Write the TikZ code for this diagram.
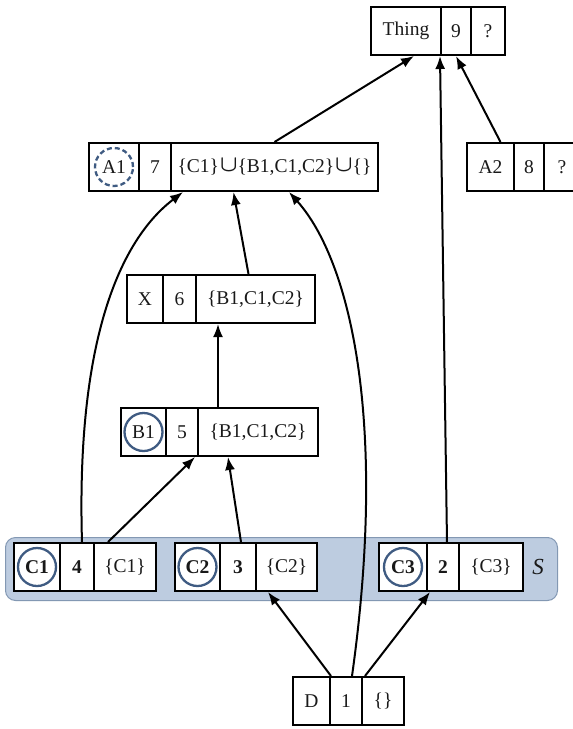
\documentclass[tikz,border=0pt]{standalone}
\usepackage{fontspec}
\setmainfont{Liberation Serif}
\usepackage{amsmath,amssymb,graphicx}
\usetikzlibrary{arrows.meta,calc}
\definecolor{circblue}{HTML}{3F5B82}
\definecolor{bandfill}{HTML}{BDCCE0}
\definecolor{bandline}{HTML}{8398B3}
\newcommand{\bigun}{\kern1pt\raisebox{0.3pt}{\scalebox{1.1}{$\boldsymbol{\cup}$}}}
\begin{document}
\begin{tikzpicture}[x=1pt,y=-1pt,
 cell/.style={draw, line width=2pt, rectangle, inner sep=0pt, minimum height=48pt, anchor=west, fill=white, font=\fontsize{19.5}{21}\selectfont, text=black!90},
 ring/.style={circle, draw=circblue, line width=2.3pt, minimum size=38pt, inner sep=0pt},
 dring/.style={ring, dash pattern=on 5pt off 3pt},
 arr/.style={line width=2pt, -{Latex[length=13pt,width=10pt]}}]
\clip (0,0) rectangle (573,729);
\useasboundingbox (0,0) rectangle (573,729);
% band
\node[draw=bandline, fill=bandfill, line width=1pt, rounded corners=10pt, minimum width=552pt, minimum height=63pt, anchor=north west, inner sep=0pt] (band) at (5,537) {};
\node[font=\itshape\fontsize{23}{25}\selectfont, text=black!90] (slabel) at (538,567) {S};
% Thing
\node[cell, minimum width=70pt] (T1) at (370,31) {Thing};
\node[cell, minimum width=30pt] (T2) at (440,31) {9};
\node[cell, minimum width=34pt] (T3) at (470,31) {?};
% A1
\node[cell, minimum width=50pt] (a1) at (88,167) {A1};
\node[cell, minimum width=32pt] (a2) at (138,167) {7};
\node[cell, minimum width=207pt] (a3) at (170,167) {\{C1\}\bigun\{B1,C1,C2\}\bigun\{\}};
% A2
\node[cell, minimum width=47pt] (p1) at (466,167) {A2};
\node[cell, minimum width=30pt] (p2) at (513,167) {8};
\node[cell, minimum width=36pt] (p3) at (543,167) {?};
% X
\node[cell, minimum width=36pt] (x1) at (126,299) {X};
\node[cell, minimum width=33pt] (x2) at (162,299) {6};
\node[cell, minimum width=119pt] (x3) at (195,299) {\{B1,C1,C2\}};
% B1
\node[cell, minimum width=45pt] (b1) at (120,432) {B1};
\node[cell, minimum width=32pt] (b2) at (165,432) {5};
\node[cell, minimum width=120pt] (b3) at (197,432) {\{B1,C1,C2\}};
% C1
\node[cell, minimum width=46pt] (c1a) at (13,567) {\textbf{C1}};
\node[cell, minimum width=34pt] (c1b) at (59,567) {\textbf{4}};
\node[cell, minimum width=62pt] (c1c) at (93,567) {\{C1\}};
% C2
\node[cell, minimum width=45pt] (c2a) at (174,567) {\textbf{C2}};
\node[cell, minimum width=36pt] (c2b) at (219,567) {\textbf{3}};
\node[cell, minimum width=61pt] (c2c) at (255,567) {\{C2\}};
% C3
\node[cell, minimum width=48pt] (c3a) at (378,567) {\textbf{C3}};
\node[cell, minimum width=32pt] (c3b) at (426,567) {\textbf{2}};
\node[cell, minimum width=64pt] (c3c) at (458,567) {\{C3\}};
% D
\node[cell, minimum width=37pt] (d1) at (292,701) {D};
\node[cell, minimum width=32pt] (d2) at (329,701) {1};
\node[cell, minimum width=42pt] (d3) at (361,701) {\{\}};
% rings
\node[dring] (ra1) at (a1.center) {};
\node[ring] (rb1) at (b1.center) {};
\node[ring] (rc1) at (c1a.center) {};
\node[ring] (rc2) at (c2a.center) {};
\node[ring] (rc3) at (c3a.center) {};
% arrows
\draw[arr] (a3.north) -- ([xshift=8pt]T1.south);
\draw[arr] ([xshift=4pt]c3b.north) -- (T2.south west);
\draw[arr] ([xshift=10pt]p1.north) -- (T2.south);
\draw[arr] ([xshift=-7pt]x3.north) -- ([xshift=-41pt]a3.south);
\draw[arr] ([xshift=21pt]b3.north west) -- ([xshift=23pt]x3.south west);
\draw[arr] ([xshift=5pt]c1b.north) .. controls (76,340) and (120,240) .. ([xshift=13pt]a3.south west);
\draw[arr] ([xshift=15pt]c1c.north west) -- ([xshift=-4pt]b2.south east);
\draw[arr] ([xshift=3pt]c2b.north) -- ([xshift=31pt]b3.south west);
\draw[arr] ([xshift=6pt]d2.north) .. controls (388,420) and (350,260) .. ([xshift=-90pt]a3.south east);
\draw[arr] (d1.north east) -- ([xshift=13pt]c2c.south west);
\draw[arr] ([xshift=4pt]d3.north west) -- ([xshift=4pt]c3b.south west);
\end{tikzpicture}
\end{document}
